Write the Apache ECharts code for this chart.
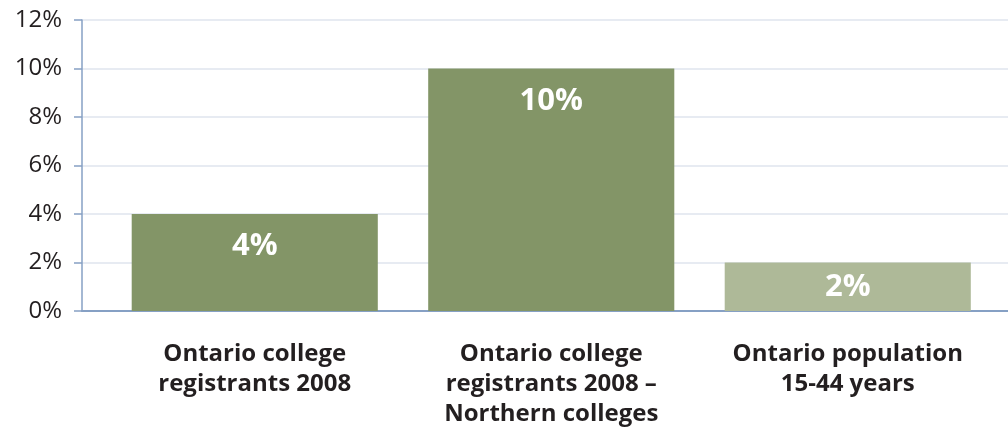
<!DOCTYPE html>
<html><head><meta charset="utf-8">
<script src="https://cdn.jsdelivr.net/npm/echarts@6/dist/echarts.min.js"></script>
<style>html,body{margin:0;padding:0;background:#fff}#c{width:1008px;height:433px}</style>
</head><body><div id="c"></div>
<script>
const categories = ['Ontario college\nregistrants 2008', 'Ontario college\nregistrants 2008 –\nNorthern colleges', 'Ontario population\n15-44 years'];
const values = [4, 10, 2];
const barColors = ['#839567', '#839567', '#aeb998'];
const yTicks = [0, 2, 4, 6, 8, 10, 12];

const chart = echarts.init(document.getElementById('c'));
const font = '"Open Sans", "Noto Sans", sans-serif';
chart.setOption({
  animation: false,
  grid: [
    {left: 82, right: 0, top: 20, bottom: 122},
    {left: 106.5, right: 12, top: 20, bottom: 122}
  ],
  xAxis: [
    {gridIndex: 0, type: 'category', data: [''], axisLine: {lineStyle: {color: '#86a0c4', width: 2}}, axisTick: {show: false}, axisLabel: {show: false}},
    {gridIndex: 1, type: 'category', data: categories, axisLine: {show: false}, axisTick: {show: false},
     axisLabel: {margin: 28, fontFamily: font, fontWeight: 'bold', fontSize: 24, color: '#231f20', lineHeight: 30, interval: 0}}
  ],
  yAxis: [
    {gridIndex: 0, type: 'value', min: yTicks[0], max: yTicks[yTicks.length-1], interval: 2,
     axisLine: {show: true, lineStyle: {color: '#86a0c4', width: 1.5}},
     axisTick: {show: true, length: 8, lineStyle: {color: '#86a0c4', width: 1.5}},
     splitLine: {lineStyle: {color: '#dfe4ee', width: 1.5}},
     axisLabel: {margin: 20, formatter: '{value}%', fontFamily: font, fontSize: 24, color: '#231f20'}},
    {gridIndex: 1, type: 'value', min: 0, max: 12, show: false}
  ],
  series: [{
    type: 'bar', xAxisIndex: 1, yAxisIndex: 1, barWidth: '83%',
    data: values.map((v, i) => ({
      value: v,
      itemStyle: {color: barColors[i]},
      label: {position: v > 3 ? 'insideTop' : 'inside', distance: 17}
    })),
    label: {show: true, formatter: '{c}%', color: '#fff', fontFamily: font, fontWeight: 'bold', fontSize: 31}
  }]
});
</script></body></html>
